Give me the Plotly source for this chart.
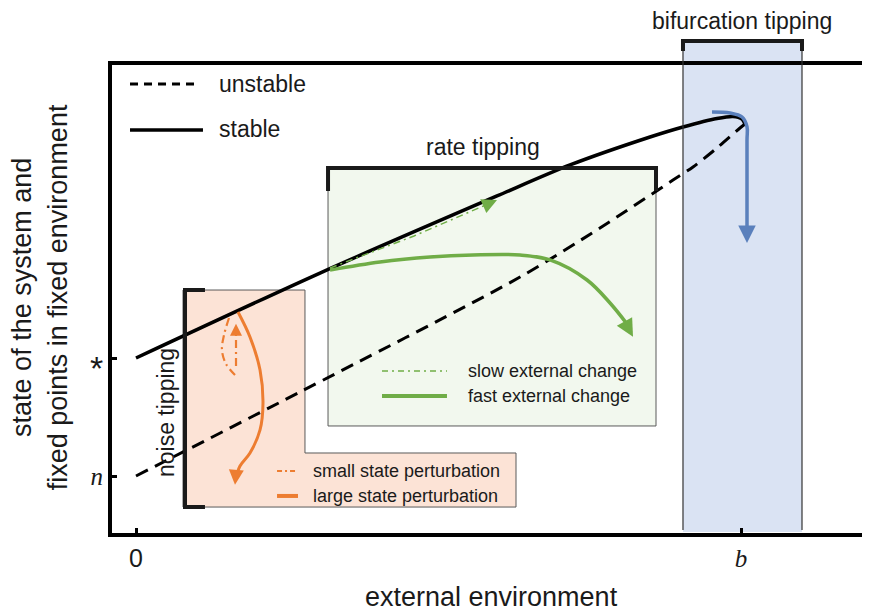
import plotly.graph_objects as go

# ---------------- data (x: external environment, 0 .. b=100 ; y: state, n=0, *=10) -------------
x_tick_vals = [0, 100]
x_tick_text = ["0", "b"]
y_tick_vals = [0, 10]
y_tick_text = ["n", "*"]

stable_x = [0, 30.41, 59.67, 71.74, 84.96, 90.41, 96.03, 98.68, 100.17, 100.66]
stable_y = [10.0, 17.20, 23.73, 26.36, 28.73, 29.58, 30.30, 30.47, 30.25, 29.83]

unstable_x = [0, 27.11, 63.47, 76.69, 88.76, 92.07, 96.03, 99.83, 100.66]
unstable_y = [0, 7.12, 16.86, 21.02, 25.08, 26.19, 27.80, 29.49, 29.83]

large_pert_x = [16.86, 18.84, 20.50, 20.99, 20.50, 18.84, 17.19, 16.53]
large_pert_y = [13.90, 11.78, 8.98, 6.19, 3.90, 1.95, 0.85, -0.17]

small_pert_x = [15.37, 14.55, 14.21, 14.88, 16.53]
small_pert_y = [13.39, 11.95, 10.68, 9.49, 8.47]
small_return_x = [16.53, 16.53]
small_return_y = [9.32, 12.40]

slow_x = [32.07, 45.95, 58.4]
slow_y = [17.63, 20.34, 23.1]

fast_x = [32.07, 40.33, 48.60, 55.70, 63.47, 68.43, 74.55, 78.35, 81.16]
fast_y = [17.46, 18.14, 18.56, 18.73, 18.73, 18.31, 16.61, 14.66, 12.88]

bif_x = [95.21, 98.18, 100.17, 100.99, 100.99, 100.99]
bif_y = [30.85, 30.76, 30.42, 29.6, 28.47, 20.9]

# regions (data units)
noise_x = [7.77, 27.93, 62.81]
noise_y = [-2.63, 1.95, 15.76]
rate_x = [31.74, 85.95]
rate_y = [4.24, 26.10]
bif_region_x = [90.41, 110.08]

# ---------------- styles ----------------
BLACK = "#000000"
ORANGE = "#ED7D31"
GREEN = "#70AD47"
BLUE = "#5A80BC"
SANS = "Liberation Sans, Arial, sans-serif"
SERIF = "Liberation Serif, Times New Roman, serif"

fig = go.Figure()

def line(x, y, color, width, dash="solid", shape="spline", smoothing=0.8):
    fig.add_trace(go.Scatter(x=x, y=y, mode="lines", showlegend=False, hoverinfo="skip",
                             line=dict(color=color, width=width, dash=dash, shape=shape, smoothing=smoothing)))

# main curves
line(stable_x, stable_y, BLACK, 3.5)
line(unstable_x, unstable_y, BLACK, 3, dash="13px,8px")

# perturbations
line(large_pert_x, large_pert_y, ORANGE, 3, smoothing=1.0)
line(small_pert_x, small_pert_y, ORANGE, 2.2, dash="8px,4px,2px,4px", smoothing=1.0)
line(small_return_x, small_return_y, ORANGE, 2.2, dash="8px,4px,2px,4px", shape="linear")

line(slow_x, slow_y, GREEN, 1.5, dash="7px,4px,2px,4px", shape="linear")
line(fast_x, fast_y, GREEN, 3.5, smoothing=1.0)

line(bif_x, bif_y, BLUE, 3.5, smoothing=1.0)

# legend samples
line([-0.99, 10.08], [33.22, 33.22], BLACK, 3, dash="8px,6px", shape="linear")
line([-0.99, 11.07], [29.32, 29.32], BLACK, 3.5, shape="linear")
line([23.31, 26.78], [0.42, 0.42], ORANGE, 2, dash="5px,3px,2px,3px", shape="linear")
line([23.31, 26.78], [-1.69, -1.69], ORANGE, 4, shape="linear")
line([40.66, 51.40], [8.90, 8.90], GREEN, 1.5, dash="6px,4px,2px,4px", shape="linear")
line([40.66, 51.40], [6.78, 6.78], GREEN, 4, shape="linear")

# ---------------- shapes ----------------
shapes = []
# noise region (L-shaped)
shapes.append(dict(type="path", layer="below", xref="x", yref="y",
                   path=f"M{noise_x[0]},{noise_y[2]} L{noise_x[1]},{noise_y[2]} L{noise_x[1]},{noise_y[1]} "
                        f"L{noise_x[2]},{noise_y[1]} L{noise_x[2]},{noise_y[0]} L{noise_x[0]},{noise_y[0]} Z",
                   fillcolor="#FCE3D6", line=dict(color="#5a5a5a", width=1)))
shapes.append(dict(type="path", layer="above", xref="x", yref="y",
                   path=f"M11.4,{noise_y[2]} L8.1,{noise_y[2]} L8.1,{noise_y[0]} L11.4,{noise_y[0]}",
                   line=dict(color="#1a1a1a", width=4)))
# rate region
shapes.append(dict(type="rect", layer="below", xref="x", yref="y",
                   x0=rate_x[0], x1=rate_x[1], y0=rate_y[0], y1=rate_y[1],
                   fillcolor="#F2F8EE", line=dict(color="#5a5a5a", width=1)))
shapes.append(dict(type="path", layer="above", xref="x", yref="y",
                   path=f"M{rate_x[0]},24.15 L{rate_x[0]},{rate_y[1]} L{rate_x[1]},{rate_y[1]} L{rate_x[1]},24.15",
                   line=dict(color="#1a1a1a", width=4)))
# bifurcation region
shapes.append(dict(type="rect", layer="below", xref="x", yref="paper",
                   x0=bif_region_x[0], x1=bif_region_x[1], y0=0.002, y1=1.0513,
                   fillcolor="#DAE3F3", line=dict(width=0)))
for bx in bif_region_x:
    shapes.append(dict(type="line", layer="above", xref="x", yref="paper",
                       x0=bx, x1=bx, y0=0.0064, y1=1.04, line=dict(color="#333333", width=1.2)))
shapes.append(dict(type="path", layer="above", xref="x", yref="paper",
                   path=f"M{bif_region_x[0]},1.0299 L{bif_region_x[0]},1.0513 L{bif_region_x[1]},1.0513 L{bif_region_x[1]},1.0299",
                   line=dict(color="#1a1a1a", width=4)))

# ---------------- annotations ----------------
ann = []
def text(x, y, s, size, xanchor="center", xref="x", yref="y", angle=0, family=SANS, yshift=0):
    ann.append(dict(x=x, y=y, xref=xref, yref=yref, text=s, showarrow=False, xanchor=xanchor,
                    yanchor="middle", textangle=angle, yshift=yshift,
                    font=dict(family=family, size=size, color="#1a1a1a")))

def head(x, y, ax, ay, color, width, size):
    ann.append(dict(x=x, y=y, ax=ax, ay=ay, xref="x", yref="y", axref="x", ayref="y", text="",
                    showarrow=True, arrowhead=2, arrowsize=size, arrowwidth=width, arrowcolor=color, standoff=0))

head(16.36, -0.75, 16.53, 0.2, ORANGE, 3, 1.0)
head(16.53, 12.9, 16.53, 12.2, ORANGE, 2, 1.2)
head(59.67, 23.39, 58.18, 23.05, GREEN, 1.5, 2.0)
head(82.15, 11.80, 81.16, 12.71, GREEN, 3.5, 1.0)
head(100.99, 19.75, 100.99, 20.9, BLUE, 3.5, 1.0)

text(13.39, 33.22, "unstable", 23, xanchor="left")
text(13.39, 29.41, "stable", 23, xanchor="left")
text(57.36, 27.88, "rate tipping", 23)
text(100.17, 1.094, "bifurcation tipping", 23, yref="paper")
text(4.96, 5.34, "noise tipping", 23, angle=-90)
text(28.93, 0.42, "small state perturbation", 18, xanchor="left")
text(28.93, -1.69, "large state perturbation", 18, xanchor="left")
text(54.55, 8.90, "slow external change", 18, xanchor="left")
text(54.55, 6.78, "fast external change", 18, xanchor="left")
text(-0.119, 0.504, "state of the system and", 27, xref="paper", yref="paper", angle=-90)
text(-0.071, 0.504, "fixed points in fixed environment", 27, xref="paper", yref="paper", angle=-90)
text(0.501, -0.1378, "external environment", 27, xref="paper", yref="paper")
# '*' tick label for the stable fixed point (placed at its tick, glyph centred on it)
text(-0.0095, y_tick_vals[1], y_tick_text[1], 34, xanchor="right", xref="paper", yshift=-10)

serif_b = f'<span style="font-family:{SERIF}"><i>{x_tick_text[1]}</i></span>'
serif_n = f'<span style="font-family:{SERIF}"><i>{y_tick_text[0]}</i></span>'

# the page adds an 8px body margin, so the figure is 8px smaller than the window
fig.update_layout(
    width=862, height=606,
    margin=dict(l=104, r=0, t=57, b=81),
    paper_bgcolor="white", plot_bgcolor="white",
    shapes=shapes, annotations=ann,
    xaxis=dict(range=[-3.967, 121.32], showgrid=False, zeroline=False,
               showline=True, linewidth=4, linecolor=BLACK, mirror=True,
               ticks="inside", ticklen=5, tickwidth=3, tickcolor=BLACK,
               tickvals=x_tick_vals, ticktext=[x_tick_text[0], serif_b],
               tickfont=dict(family=SANS, size=25, color="#1a1a1a")),
    yaxis=dict(range=[-4.83, 34.83], showgrid=False, zeroline=False,
               showline=True, linewidth=4, linecolor=BLACK,
               ticks="inside", ticklen=5, tickwidth=3, tickcolor=BLACK,
               tickvals=y_tick_vals, ticktext=[serif_n, ""],
               tickfont=dict(family=SANS, size=25, color="#1a1a1a")),
)

fig.write_html("out.html")
